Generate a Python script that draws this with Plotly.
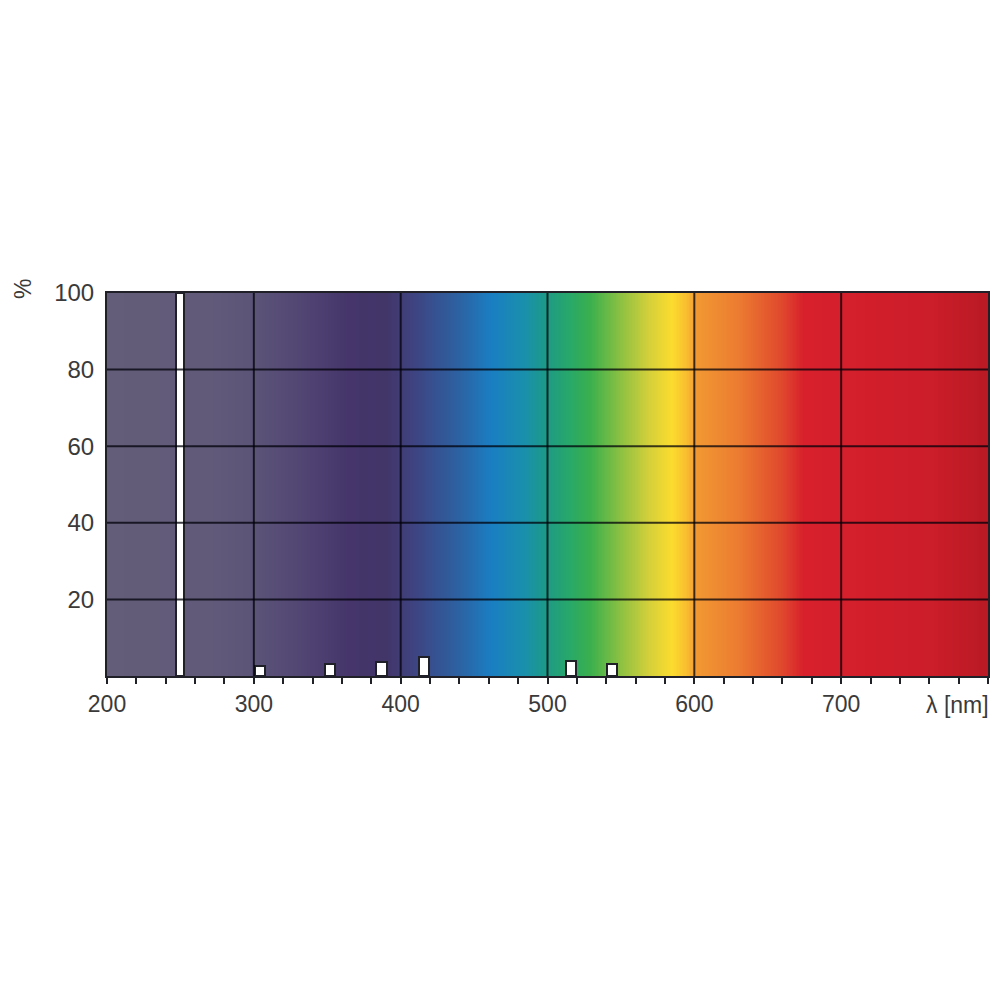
"""Spectral transmission chart: white line bars over a visible-spectrum backdrop."""
import numpy as np
import plotly.graph_objects as go

# spectrum backdrop colour stops (nm -> colour)
SPECTRUM_NM = [200, 270, 300, 340, 365, 390, 410, 440, 462, 485, 500, 515,
               530, 550, 570, 585, 595, 602, 630, 660, 675, 700, 760, 800]
SPECTRUM_COLORS = ["#635d79", "#615a79", "#5c5478", "#4f4272", "#45356a",
                   "#423568", "#3e4482", "#2c62a2", "#1a7ec2", "#1a90ab",
                   "#1e9a84", "#28a86a", "#3cb04c", "#8cc142", "#d6d03a",
                   "#fbdc2e", "#f9bd30", "#f19832", "#ec7c31", "#e0482d",
                   "#d7202c", "#d51f2c", "#cc1d2a", "#b91a24"]

# emission lines
LINE_NM = [250, 304, 352, 387, 416, 516, 544]
LINE_PCT = [100, 2.6, 3.1, 3.7, 5.0, 3.9, 3.1]

X_TICKS = [200, 300, 400, 500, 600, 700]
Y_TICKS = [20, 40, 60, 80, 100]

INK = "#202028"
GRID = "rgba(0,0,10,0.75)"
LABEL = "#3a3a3a"
FONT = "Liberation Sans, Arial, sans-serif"

lo, hi = SPECTRUM_NM[0], SPECTRUM_NM[-1]
scale = [[(nm - lo) / (hi - lo), c] for nm, c in zip(SPECTRUM_NM, SPECTRUM_COLORS)]
grid_x = np.arange(lo, hi + 1)

fig = go.Figure()
fig.add_trace(go.Heatmap(
    x=grid_x, y=[0, 100], z=[grid_x, grid_x], colorscale=scale,
    zmin=lo, zmax=hi, showscale=False, hoverinfo="skip",
))

# grid drawn as traces so it sits over the backdrop but under the bars
for v in X_TICKS[1:]:
    fig.add_trace(go.Scatter(x=[v, v], y=[0, 100], mode="lines",
                             line={"color": GRID, "width": 2},
                             showlegend=False, hoverinfo="skip"))
for v in Y_TICKS[:-1]:
    fig.add_trace(go.Scatter(x=[lo, hi], y=[v, v], mode="lines",
                             line={"color": GRID, "width": 2},
                             showlegend=False, hoverinfo="skip"))

# the tall 250 nm line is drawn a bit narrower than the small ones
widths = [5.5] + [7] * (len(LINE_NM) - 1)
fig.add_trace(go.Bar(
    x=LINE_NM, y=LINE_PCT, width=widths,
    marker={"color": "white", "line": {"color": INK, "width": 2}},
    showlegend=False,
))

# page body has an 8px margin, so the figure is 992 wide/high
fig.update_layout(
    width=992, height=992,
    margin={"l": 99, "r": 10, "t": 285, "b": 324},
    paper_bgcolor="white", plot_bgcolor="white",
    font={"family": FONT, "color": LABEL, "size": 24},
    bargap=0,
)
fig.update_xaxes(
    range=[lo, hi], tickvals=X_TICKS, ticks="outside", ticklen=6,
    tickwidth=1.5, tickcolor=INK, showgrid=False, zeroline=False,
    showline=True, linecolor=INK, linewidth=2, mirror=True,
    minor={"dtick": 20, "ticks": "outside", "ticklen": 6,
           "tickcolor": INK, "tickwidth": 1.5, "showgrid": False},
    tickfont={"size": 23, "color": LABEL},
)
fig.update_yaxes(
    range=[0, 100], tickvals=Y_TICKS, ticks="", showgrid=False,
    zeroline=False, showline=True, linecolor=INK, linewidth=2, mirror=True,
    tickfont={"size": 24, "color": LABEL}, ticklabelstandoff=6,
)
fig.add_annotation(
    x=hi, xref="x", y=0, yref="paper", text="λ [nm]", showarrow=False,
    xanchor="right", yanchor="top", xshift=3, yshift=-14,
    font={"size": 23, "color": LABEL},
)
fig.add_annotation(
    x=0, xref="paper", y=1, yref="paper", text="%", showarrow=False,
    textangle=-90, xanchor="center", yanchor="middle", xshift=-84, yshift=4,
    font={"size": 23, "color": LABEL},
)

fig.write_html("out.html")
